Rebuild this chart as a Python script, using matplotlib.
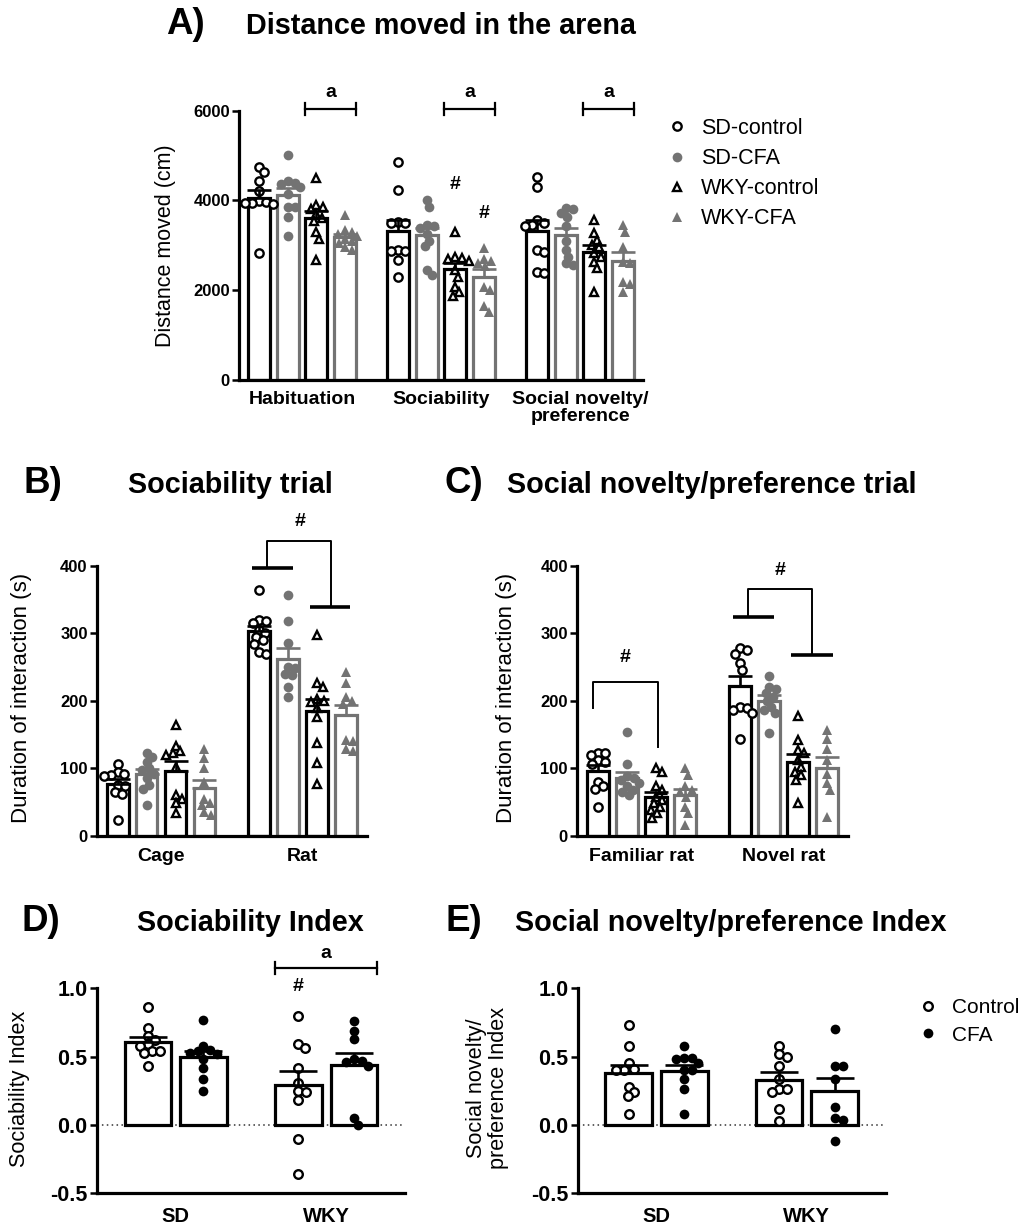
import numpy as np
import matplotlib
matplotlib.use("Agg")
import matplotlib.pyplot as plt
from matplotlib.lines import Line2D

plt.rcParams['font.family'] = ['Liberation Sans', 'DejaVu Sans']

# ---------------------------------------------------------------- data
series = ["SD-control", "SD-CFA", "WKY-control", "WKY-CFA"]

# A) distance moved (cm): one list per trial for every group
trials_A = ["Habituation", "Sociability", "Social novelty/\npreference"]
dist_sd_control = [
    [4750, 4640, 4440, 4200, 3990, 3960, 3950, 3940, 3930, 2820],
    [4860, 4230, 3530, 3500, 3500, 2900, 2880, 2870, 2680, 2300],
    [4530, 4310, 3560, 3500, 3450, 3420, 2900, 2850, 2400, 2380],
]
dist_sd_cfa = [
    [5010, 4440, 4400, 4360, 4300, 4150, 3860, 3850, 3640, 3210],
    [4010, 3860, 3450, 3420, 3380, 3250, 3100, 2980, 2450, 2340],
    [3830, 3800, 3720, 3640, 3420, 3100, 2900, 2750, 2600, 2560],
]
dist_wky_control = [
    [4490, 3900, 3850, 3800, 3700, 3600, 3550, 3300, 3150, 2680],
    [3300, 2750, 2720, 2700, 2650, 2450, 2300, 2080, 1950, 1880],
    [3560, 3270, 3120, 3000, 2960, 2830, 2750, 2640, 2490, 1970],
]
dist_wky_cfa = [
    [3670, 3340, 3300, 3260, 3200, 3150, 3100, 3050, 2960, 2900],
    [2930, 2700, 2650, 2600, 2540, 2080, 2000, 1640, 1520],
    [3450, 3300, 2970, 2640, 2600, 2190, 2150, 1970],
]

# B) sociability trial, duration of interaction (s)
zones_B = ["Cage", "Rat"]
soc_sd_control = [[106, 95, 92, 90, 88, 75, 73, 65, 62, 24],
                  [364, 320, 318, 315, 305, 300, 295, 290, 285, 272, 270]]
soc_sd_cfa = [[122, 116, 110, 100, 97, 92, 85, 75, 70, 45],
              [357, 318, 286, 250, 248, 240, 238, 221, 206]]
soc_wky_control = [[164, 133, 125, 122, 120, 102, 60, 55, 48, 33],
                   [298, 226, 221, 203, 200, 198, 190, 176, 137, 108, 77]]
soc_wky_cfa = [[128, 115, 100, 80, 55, 48, 45, 35, 30],
               [243, 226, 206, 200, 196, 142, 140, 128, 125]]

# C) social novelty/preference trial, duration of interaction (s)
zones_C = ["Familiar rat", "Novel rat"]
nov_sd_control = [[123, 122, 120, 112, 110, 106, 80, 73, 70, 43],
                  [278, 275, 270, 256, 246, 191, 189, 186, 182, 143]]
nov_sd_cfa = [[154, 107, 88, 85, 82, 78, 73, 68, 65, 60],
              [237, 221, 218, 211, 206, 200, 191, 186, 182, 153]]
nov_wky_control = [[100, 95, 73, 68, 58, 53, 48, 43, 38, 33, 26],
                   [177, 142, 127, 122, 112, 102, 95, 90, 83, 48]]
nov_wky_cfa = [[100, 90, 73, 68, 65, 58, 43, 33, 16],
               [157, 144, 128, 112, 92, 78, 68, 28]]

# D) / E) indices: strains on the x axis, treatment as the two bars
strains = ["SD", "WKY"]
treatments = ["Control", "CFA"]
soc_index_control = [[0.86, 0.71, 0.65, 0.62, 0.59, 0.58, 0.54, 0.54, 0.53, 0.43],
                     [0.80, 0.59, 0.56, 0.42, 0.31, 0.25, 0.24, 0.18, -0.10, -0.36]]
soc_index_cfa = [[0.77, 0.58, 0.55, 0.54, 0.53, 0.52, 0.48, 0.42, 0.34, 0.25],
                 [0.76, 0.69, 0.63, 0.48, 0.47, 0.46, 0.43, 0.05, 0.00]]
nov_index_control = [[0.73, 0.58, 0.45, 0.41, 0.40, 0.40, 0.28, 0.24, 0.21, 0.08],
                     [0.58, 0.52, 0.50, 0.43, 0.34, 0.26, 0.26, 0.24, 0.12, 0.03]]
nov_index_cfa = [[0.58, 0.49, 0.49, 0.48, 0.45, 0.40, 0.40, 0.34, 0.26, 0.08],
                 [0.70, 0.43, 0.43, 0.34, 0.13, 0.05, 0.04, -0.12]]

# ---------------------------------------------------------------- style
BLACK = "#000000"
GREY = "#737373"
W, H = 1026, 1225

STYLE4 = {
    "SD-control": dict(marker="o", mfc="white", mec=BLACK, ms=6.0, mew=1.7, col=BLACK),
    "SD-CFA": dict(marker="o", mfc=GREY, mec=GREY, ms=7.0, mew=0.0, col=GREY),
    "WKY-control": dict(marker="^", mfc="white", mec=BLACK, ms=6.3, mew=1.7, col=BLACK),
    "WKY-CFA": dict(marker="^", mfc=GREY, mec=GREY, ms=7.3, mew=0.0, col=GREY),
}
STYLE2 = {
    "Control": dict(marker="o", mfc="white", mec=BLACK, ms=6.2, mew=1.7, col=BLACK),
    "CFA": dict(marker="o", mfc=BLACK, mec=BLACK, ms=7.0, mew=0.0, col=BLACK),
}

fig = plt.figure(figsize=(W / 100, H / 100), dpi=100)


def axes_px(left, top, right, bottom):
    return fig.add_axes([left / W, 1 - bottom / H, (right - left) / W, (bottom - top) / H])


def swarm(ax, xc, vals, diam):
    """Spread points horizontally so that markers of `diam` px do not overlap."""
    vals = np.asarray(vals, float)
    ys = ax.transData.transform(np.column_stack([np.full(len(vals), xc), vals]))[:, 1]
    xs = np.zeros(len(vals))
    placed = []
    for i in range(len(vals)):
        cands = [0.0]
        for j in placed:
            dy = ys[i] - ys[j]
            if abs(dy) < diam:
                dx = np.sqrt(diam ** 2 - dy ** 2)
                cands += [xs[j] + dx, xs[j] - dx]
        for c in sorted(cands, key=abs):
            if all((c - xs[j]) ** 2 + (ys[i] - ys[j]) ** 2 >= diam ** 2 - 1e-6 for j in placed):
                xs[i] = c
                break
        placed.append(i)
    unit = ax.transData.transform((1, 0))[0] - ax.transData.transform((0, 0))[0]
    return xc + xs / unit


def grouped(ax, data, names, styles, offsets, width, diam, capsize, bar_lw=2.3):
    for k, name in enumerate(names):
        st = styles[name]
        for g, vals in enumerate(data[k]):
            vals = np.asarray(vals, float)
            x = g + offsets[k]
            m = vals.mean()
            sem = vals.std(ddof=1) / np.sqrt(len(vals))
            ax.bar(x, m, width=width, facecolor="white", edgecolor=st["col"],
                   linewidth=bar_lw, zorder=2)
            xs = swarm(ax, x, vals, diam)
            ax.plot(xs, vals, ls="none", marker=st["marker"], mfc=st["mfc"], mec=st["mec"],
                    ms=st["ms"], mew=st["mew"], zorder=4, clip_on=False)
            ax.errorbar([x], [m], yerr=[[0], [sem]], fmt="none", ecolor=st["col"],
                        elinewidth=1.9, capsize=capsize, capthick=1.9, zorder=5)


def style_axes(ax, ylim, yticks, xlabels, ytick_size, xtick_size, xpad, ytickfmt=None):
    ax.set_ylim(*ylim)
    for s in ("top", "right"):
        ax.spines[s].set_visible(False)
    for s in ("left", "bottom"):
        ax.spines[s].set_linewidth(2.3)
    ax.set_yticks(yticks)
    if ytickfmt:
        ax.set_yticklabels([ytickfmt(v) for v in yticks])
    ax.set_xticks(range(len(xlabels)))
    ax.set_xticklabels(xlabels, linespacing=1.0)
    ax.tick_params(axis="y", direction="out", length=5, width=1.8, pad=1.5,
                   labelsize=ytick_size)
    ax.tick_params(axis="x", length=0, pad=xpad, labelsize=xtick_size)
    for t in ax.get_xticklabels() + ax.get_yticklabels():
        t.set_fontweight("bold")


def bracket_a(ax, x0, x1, y, label, cap, text_y, fs=14):
    ax.plot([x0, x1], [y, y], color=BLACK, lw=1.6, clip_on=False, zorder=6)
    for xe in (x0, x1):
        ax.plot([xe, xe], [y - cap, y + cap], color=BLACK, lw=1.6, clip_on=False, zorder=6)
    ax.text((x0 + x1) / 2, text_y, label, ha="center", va="center", fontsize=fs,
            fontweight="bold", clip_on=False)


def step_bracket(ax, left_bar, left_y, left_x, top_y, right_x, right_bar, right_y, hash_xy):
    # thick bars marking the two pooled groups, joined by a thin step line
    ax.plot(left_bar, [left_y, left_y], color=BLACK, lw=2.6, clip_on=False, solid_capstyle="butt")
    ax.plot(right_bar, [right_y, right_y], color=BLACK, lw=2.6, clip_on=False, solid_capstyle="butt")
    ax.plot([left_x, left_x, right_x, right_x], [left_y, top_y, top_y, right_y],
            color=BLACK, lw=1.4, clip_on=False)
    ax.text(hash_xy[0], hash_xy[1], "#", ha="center", va="center", fontsize=14,
            fontweight="bold", clip_on=False)


PITCH, BW = 0.205, 0.155
OFF4 = (np.arange(4) - 1.5) * PITCH
OFF2 = np.array([-0.185, 0.185])
BW2 = 0.31

# ---------------------------------------------------------------- A
axA = axes_px(239, 110.7, 643, 380)
axA.set_xlim(-0.453, 2.453)
axA.set_ylim(0, 6000)
dataA = [dist_sd_control, dist_sd_cfa, dist_wky_control, dist_wky_cfa]
grouped(axA, dataA, series, STYLE4, OFF4, BW, diam=7.2, capsize=8.5)
style_axes(axA, (0, 6000), [0, 2000, 4000, 6000], trials_A, 12, 14, 8)
axA.set_ylabel("Distance moved (cm)", fontsize=15.5, va="center")
axA.yaxis.set_label_coords(-0.181, 0.5)
for g in range(3):
    bracket_a(axA, g + OFF4[2] - BW / 2, g + OFF4[3] + BW / 2, 6040, "a", 140, 6400)
axA.text(1 + OFF4[2], 4345, "#", ha="center", va="center", fontsize=14, fontweight="bold")
axA.text(1 + OFF4[3], 3714, "#", ha="center", va="center", fontsize=14, fontweight="bold")

handles = [Line2D([], [], ls="none", marker=STYLE4[n]["marker"], mfc=STYLE4[n]["mfc"],
                  mec=STYLE4[n]["mec"], ms=STYLE4[n]["ms"], mew=STYLE4[n]["mew"]) for n in series]
fig.legend(handles, series, loc="upper left", bbox_to_anchor=(668 / W, 1 - 118 / H),
           frameon=False, fontsize=15.5, handlelength=0.8, handletextpad=0.75,
           labelspacing=0.42, borderpad=0, borderaxespad=0)

fig.text(166 / W, 1 - 34 / H, "A)", fontsize=26.5, fontweight="bold", va="baseline")
fig.text(246 / W, 1 - 34 / H, "Distance moved in the arena", fontsize=20.7,
         fontweight="bold", va="baseline")

# ---------------------------------------------------------------- B
axB = axes_px(96.7, 566, 366.7, 835.7)
axB.set_xlim(-0.455, 1.455)
axB.set_ylim(0, 400)
dataB = [soc_sd_control, soc_sd_cfa, soc_wky_control, soc_wky_cfa]
grouped(axB, dataB, series, STYLE4, OFF4, BW, diam=7.2, capsize=8.5)
style_axes(axB, (0, 400), [0, 100, 200, 300, 400], zones_B, 12, 14, 9)
axB.set_ylabel("Duration of interaction (s)", fontsize=16, va="center")
axB.yaxis.set_label_coords(-0.277, 0.51)
step_bracket(axB, [0.641, 0.931], 397, 0.751, 437, 1.203, [1.057, 1.339], 339, (0.986, 466))

fig.text(23 / W, 1 - 493 / H, "B)", fontsize=26.5, fontweight="bold", va="baseline")
fig.text(127.6 / W, 1 - 493 / H, "Sociability trial", fontsize=20.7, fontweight="bold",
         va="baseline")

# ---------------------------------------------------------------- C
axC = axes_px(577, 566, 848, 835.7)
axC.set_xlim(-0.455, 1.455)
axC.set_ylim(0, 400)
dataC = [nov_sd_control, nov_sd_cfa, nov_wky_control, nov_wky_cfa]
grouped(axC, dataC, series, STYLE4, OFF4, BW, diam=7.2, capsize=8.5)
style_axes(axC, (0, 400), [0, 100, 200, 300, 400], zones_C, 12, 14, 9)
axC.set_ylabel("Duration of interaction (s)", fontsize=16, va="center")
axC.yaxis.set_label_coords(-0.261, 0.51)
axC.plot([-0.340, -0.340, 0.114, 0.114], [189, 228.5, 228.5, 131], color=BLACK, lw=1.4,
         clip_on=False)
axC.text(-0.113, 264, "#", ha="center", va="center", fontsize=14, fontweight="bold")
step_bracket(axC, [0.646, 0.935], 324, 0.752, 365.5, 1.201, [1.054, 1.348], 268, (0.98, 394))

fig.text(445 / W, 1 - 493 / H, "C)", fontsize=26.5, fontweight="bold", va="baseline")
fig.text(507 / W, 1 - 493 / H, "Social novelty/preference trial", fontsize=20.7,
         fontweight="bold", va="baseline")

# ---------------------------------------------------------------- D
idx_fmt = lambda v: f"{v:.1f}"
axD = axes_px(96.7, 988.3, 405, 1193.3)
axD.set_xlim(-0.525, 1.525)
axD.set_ylim(-0.5, 1.0)
axD.axhline(0, color="#333333", lw=1.1, ls=(0, (1, 2.2)), zorder=1)
grouped(axD, [soc_index_control, soc_index_cfa], treatments, STYLE2, OFF2, BW2,
        diam=8, capsize=14)
style_axes(axD, (-0.5, 1.0), [-0.5, 0.0, 0.5, 1.0], strains, 15.5, 14.5, 10, idx_fmt)
axD.set_ylabel("Sociability Index", fontsize=15.6, va="center")
axD.yaxis.set_label_coords(-0.249, 0.512)
bracket_a(axD, 1 + OFF2[0] - BW2 / 2, 1 + OFF2[1] + BW2 / 2, 1.148, "a", 0.045, 1.257)
axD.text(1 + OFF2[0], 1.01, "#", ha="center", va="center", fontsize=14, fontweight="bold",
         clip_on=False)

fig.text(21.7 / W, 1 - 931 / H, "D)", fontsize=26.5, fontweight="bold", va="baseline")
fig.text(136.7 / W, 1 - 931 / H, "Sociability Index", fontsize=20.7, fontweight="bold",
         va="baseline")

# ---------------------------------------------------------------- E
axE = axes_px(577.5, 988.3, 885.8, 1193.3)
axE.set_xlim(-0.525, 1.525)
axE.set_ylim(-0.5, 1.0)
axE.axhline(0, color="#333333", lw=1.1, ls=(0, (1, 2.2)), zorder=1)
grouped(axE, [nov_index_control, nov_index_cfa], treatments, STYLE2, OFF2, BW2,
        diam=8, capsize=14)
style_axes(axE, (-0.5, 1.0), [-0.5, 0.0, 0.5, 1.0], strains, 15.5, 14.5, 10, idx_fmt)
axE.set_ylabel("Social novelty/\npreference Index", fontsize=15.6, va="center",
               linespacing=1.05)
axE.yaxis.set_label_coords(-0.291, 0.513)

handles2 = [Line2D([], [], ls="none", marker=STYLE2[n]["marker"], mfc=STYLE2[n]["mfc"],
                   mec=STYLE2[n]["mec"], ms=STYLE2[n]["ms"], mew=STYLE2[n]["mew"])
            for n in treatments]
fig.legend(handles2, treatments, loc="upper left", bbox_to_anchor=(920 / W, 1 - 998 / H),
           frameon=False, fontsize=15, handlelength=0.8, handletextpad=0.75,
           labelspacing=0.42, borderpad=0, borderaxespad=0)

fig.text(445.6 / W, 1 - 931 / H, "E)", fontsize=26.5, fontweight="bold", va="baseline")
fig.text(514.7 / W, 1 - 931 / H, "Social novelty/preference Index", fontsize=20.7,
         fontweight="bold", va="baseline")

fig.savefig("out.png", dpi=100)
